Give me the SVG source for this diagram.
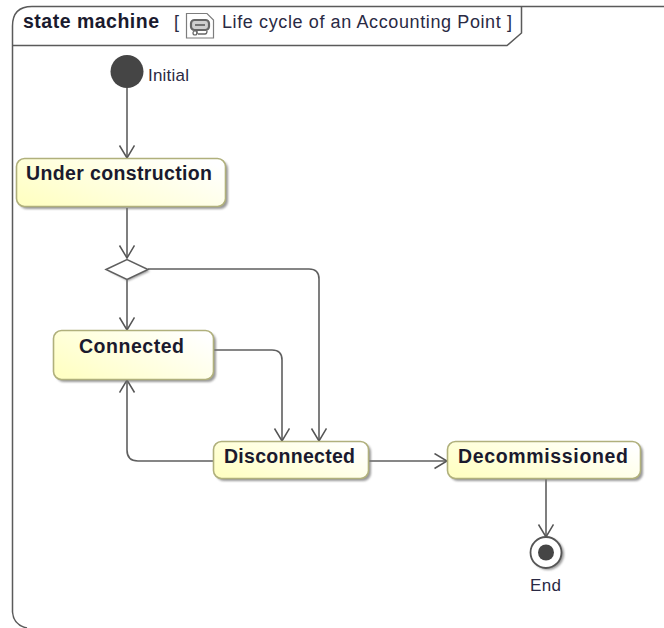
<svg xmlns="http://www.w3.org/2000/svg" width="664" height="628" viewBox="0 0 664 628">
<defs>
<linearGradient id="g" x1="0" y1="0.8" x2="1" y2="0.2"><stop offset="0" stop-color="#ffffc4"/><stop offset="1" stop-color="#ffffff"/></linearGradient>
<filter id="blur" x="-10%" y="-20%" width="120%" height="140%"><feGaussianBlur stdDeviation="1.2"/></filter>
<marker id="a" markerUnits="userSpaceOnUse" markerWidth="18" markerHeight="18" refX="14" refY="8" orient="auto"><path d="M1.500 0.500 L14 8 L1.500 15.500" fill="none" stroke="#555" stroke-width="1.5"/></marker>
</defs>
<style>
.c{fill:none;stroke:#5f5f5f;stroke-width:1.6;marker-end:url(#a)}
.n{fill:url(#g);stroke:#b0b07c;stroke-width:1.6}
.s{fill:#777;stroke:none;opacity:.75;filter:url(#blur)}
.b{font:bold 19.5px "Liberation Sans",Arial,sans-serif;fill:#1a1a2e}
.t{font:18px "Liberation Sans",Arial,sans-serif;fill:#2a2a44}
.f{fill:none;stroke:#5a5a5a;stroke-width:1.5}
</style>
<g id="frame">
<path class="f" d="M12.500 612 V26 Q12.500 6.500 32 6.500 H664"/>
<path class="f" d="M12.500 45.500 H507 L521.500 33 V6.500"/>
<path class="f" d="M12.500 612 Q13.500 625 27 628"/>
<text x="23" y="28" class="b" textLength="136" lengthAdjust="spacing">state machine</text>
<text x="174" y="28" class="t">[</text>
<g id="icon" fill="none" stroke="#7d7d7d"><path d="M186.500 13.500 H207 L213.500 20 V38 H186.500Z" stroke-width="1.2"/><rect x="191" y="20" width="18" height="10" rx="3.500" fill="#cfcfcf" stroke="#666" stroke-width="2.200"/><path d="M195 25 H205" stroke="#555" stroke-width="1.500"/><path d="M198 34 H205 Q207 34 207 31 M197 30 V34" stroke="#666" stroke-width="1.300"/><circle cx="195" cy="33" r="2" stroke="#666" stroke-width="1.200"/></g>
<text x="222" y="28" class="t" textLength="290" lengthAdjust="spacing">Life cycle of an Accounting Point ]</text>
</g>
<g id="connectors">
<path class="c" d="M127 88 V158"/>
<path class="c" d="M127 208 V258"/>
<path class="c" d="M127 280 V330"/>
<path class="c" d="M148 269 H309 Q319 269 319 279 V441"/>
<path class="c" d="M214 350 H272 Q282 350 282 360 V441"/>
<path class="c" d="M213 461 H138 Q127 461 127 450 V380"/>
<path class="c" d="M369 461 H447"/>
<path class="c" d="M546 479 V537"/>
</g>
<g id="initial"><circle cx="127" cy="71.500" r="16.500" fill="#454545"/><text x="148" y="81" class="t" textLength="41" lengthAdjust="spacing" style="font-size:17px">Initial</text></g>
<g id="under-construction"><rect class="s" x="19" y="161" width="209" height="48" rx="8"/><rect class="n" x="16.500" y="158.500" width="209" height="48" rx="8"/><text x="26" y="180" class="b" textLength="186" lengthAdjust="spacing">Under construction</text></g>
<g id="decision"><path class="s" d="M109 271 L128 281 L150 271 L128 262Z"/><path d="M106 269.500 L127 259.500 L148 269.500 L127 279.500Z" fill="#fff" stroke="#5f5f5f" stroke-width="1.5"/></g>
<g id="connected"><rect class="s" x="56" y="333" width="160" height="49" rx="8"/><rect class="n" x="53.500" y="330.500" width="160" height="49" rx="8"/><text x="79" y="352.500" class="b" textLength="105" lengthAdjust="spacing">Connected</text></g>
<g id="disconnected"><rect class="s" x="216" y="444" width="155" height="37" rx="8"/><rect class="n" x="213.500" y="441.500" width="155" height="37" rx="8"/><text x="224" y="463" class="b" textLength="131" lengthAdjust="spacing">Disconnected</text></g>
<g id="decommissioned"><rect class="s" x="450" y="444" width="193" height="37" rx="8"/><rect class="n" x="447.500" y="441.500" width="193" height="37" rx="8"/><text x="458" y="463" class="b" textLength="170" lengthAdjust="spacing">Decommissioned</text></g>
<g id="end"><circle cx="548" cy="554" r="16" class="s"/><circle cx="546" cy="552.500" r="15.500" fill="#fff" stroke="#555" stroke-width="1.800"/><circle cx="546" cy="552.500" r="8" fill="#454545"/><text x="530" y="590.500" class="t" textLength="31" lengthAdjust="spacing" style="font-size:17px">End</text></g>
</svg>
